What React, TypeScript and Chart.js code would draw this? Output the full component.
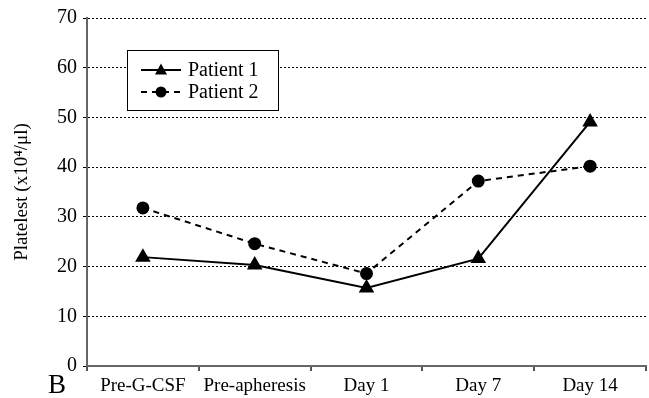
import React, { useEffect, useRef } from "react";
import { Chart, registerables } from "chart.js";

Chart.register(...registerables);

const categories = ["Pre-G-CSF", "Pre-apheresis", "Day 1", "Day 7", "Day 14"];
const patient1 = [21.9, 20.3, 15.7, 21.6, 49.1];
const patient2 = [31.8, 24.6, 18.6, 37.2, 40.2];
const yTicks = [0, 10, 20, 30, 40, 50, 60, 70];
const seriesLabels = ["Patient 1", "Patient 2"];
const yTitle = "Platelest (x10\u2074/\u03bcl)";
const panelLabel = "B";

const FONT = "'Liberation Serif', 'Times New Roman', serif";

const insideLegend = {
  id: "insideLegend",
  afterDraw(chart: any) {
    const ctx = chart.ctx;
    const x0 = 127, y0 = 50, w = 151, h = 60;
    ctx.save();
    ctx.fillStyle = "#fff";
    ctx.fillRect(x0, y0, w, h);
    ctx.strokeStyle = "#000";
    ctx.lineWidth = 1;
    ctx.strokeRect(x0 + 0.5, y0 + 0.5, w, h);
    chart.data.datasets.forEach((ds: any, i: number) => {
      const cy = y0 + 20 + i * 22;
      ctx.beginPath();
      ctx.setLineDash(ds.borderDash || []);
      ctx.strokeStyle = ds.borderColor;
      ctx.lineWidth = ds.borderWidth;
      ctx.moveTo(141, cy);
      ctx.lineTo(181, cy);
      ctx.stroke();
      ctx.setLineDash([]);
      ctx.fillStyle = ds.pointBackgroundColor;
      if (ds.pointStyle === "triangle") {
        const r = 6;
        ctx.beginPath();
        ctx.moveTo(161, cy - r * 1.1);
        ctx.lineTo(161 - r, cy + r * 0.75);
        ctx.lineTo(161 + r, cy + r * 0.75);
        ctx.closePath();
        ctx.fill();
      } else {
        ctx.beginPath();
        ctx.arc(161, cy, 5.5, 0, Math.PI * 2);
        ctx.fill();
      }
      ctx.fillStyle = "#000";
      ctx.font = `20px ${FONT}`;
      ctx.textBaseline = "middle";
      ctx.textAlign = "left";
      ctx.fillText(ds.label, 188, cy + 1);
    });
    ctx.font = `27px ${FONT}`;
    ctx.textAlign = "center";
    ctx.textBaseline = "alphabetic";
    ctx.fillText(panelLabel, 57, 393);
    ctx.restore();
  },
};

export default function App() {
  const ref = useRef<HTMLCanvasElement>(null);
  useEffect(() => {
    if (!ref.current) return;
    const chart = new Chart(ref.current, {
      type: "line",
      data: {
        labels: categories,
        datasets: [
          {
            label: seriesLabels[0],
            data: patient1,
            borderColor: "#000",
            backgroundColor: "#000",
            pointBackgroundColor: "#000",
            pointBorderColor: "#000",
            borderWidth: 2,
            pointStyle: "triangle",
            pointRadius: 7,
            tension: 0,
          },
          {
            label: seriesLabels[1],
            data: patient2,
            borderColor: "#000",
            backgroundColor: "#000",
            pointBackgroundColor: "#000",
            pointBorderColor: "#000",
            borderWidth: 2,
            borderDash: [6, 5],
            pointStyle: "circle",
            pointRadius: 5.5,
            tension: 0,
          },
        ] as any,
      },
      options: {
        animation: false,
        responsive: false,
        maintainAspectRatio: false,
        layout: { autoPadding: false, padding: { top: 18, right: 3, left: 0, bottom: 0 } } as any,
        plugins: { legend: { display: false }, tooltip: { enabled: false } },
        scales: {
          x: {
            offset: true,
            grid: {
              offset: true,
              drawOnChartArea: false,
              drawTicks: true,
              tickLength: 5,
              color: "#555",
              lineWidth: 2,
            },
            border: { color: "#666", width: 2 },
            ticks: {
              color: "#000",
              font: { family: FONT, size: 19 },
              padding: 4,
              maxRotation: 0,
              autoSkip: false,
            },
            afterFit: (s: any) => {
              s.height = 32;
              s.paddingLeft = 0;
              s.paddingRight = 0;
            },
          },
          y: {
            min: 0,
            max: 70,
            afterBuildTicks: (s: any) => {
              s.ticks = yTicks.map((v) => ({ value: v }));
            },
            grid: {
              color: "#000",
              lineWidth: 1,
              tickLength: 4,
              tickColor: "#000",
              tickBorderDash: [],
            } as any,
            border: { color: "#666", width: 2, dash: [2, 2] } as any,
            ticks: {
              color: "#000",
              font: { family: FONT, size: 20 },
              padding: 6,
            },
            title: {
              display: true,
              text: yTitle,
              color: "#000",
              font: { family: FONT, size: 19 },
              padding: { top: 11, bottom: 0 },
            },
            afterFit: (s: any) => {
              s.width = 87;
              s.paddingTop = 0;
              s.paddingBottom = 0;
            },
          },
        },
      },
      plugins: [insideLegend],
    });
    return () => chart.destroy();
  }, []);
  return (
    <div style={{ position: "fixed", left: 0, top: 0, width: 649, height: 398, background: "#fff" }}>
      <canvas ref={ref} width={649} height={398} style={{ width: 649, height: 398 }} />
    </div>
  );
}
